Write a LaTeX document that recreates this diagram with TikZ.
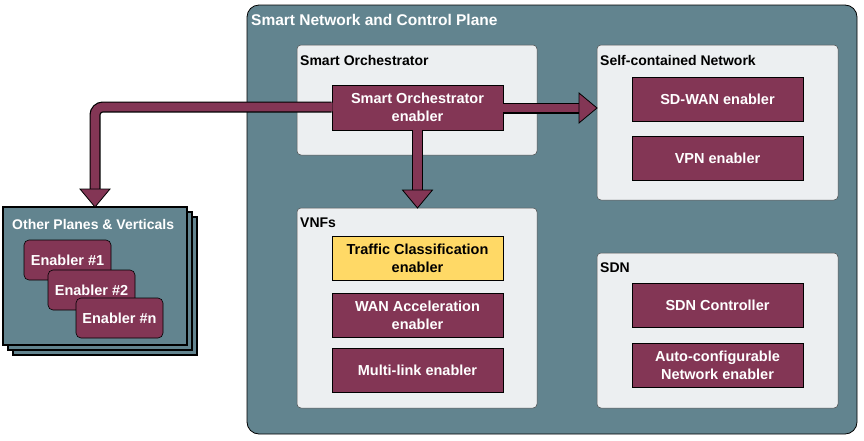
\documentclass[tikz,border=0pt]{standalone}
\usepackage{fontspec}
\setmainfont{Liberation Sans}
\usetikzlibrary{positioning,calc}
\definecolor{teal}{HTML}{62848F}
\definecolor{pale}{HTML}{ECEFF1}
\definecolor{maroon}{HTML}{833655}
\definecolor{yel}{HTML}{FFD966}
\begin{document}
\begin{tikzpicture}[x=1pt,y=-1pt,
  every node/.style={font=\fontsize{14.5}{18}\selectfont\bfseries},
  outer/.style={draw=black,fill=teal,rounded corners=12pt,line width=0.8pt},
  group/.style={draw=black!70,fill=pale,rounded corners=4pt,line width=0.5pt},
  en/.style={draw=black,fill=maroon,text=white,align=center,line width=0.8pt,inner sep=0pt},
  sen/.style={draw=black,fill=maroon,text=white,rounded corners=5pt,line width=0.6pt},
  lbl/.style={anchor=west,inner sep=0pt,font=\fontsize{14}{16}\selectfont\bfseries},
  shaft/.style={line width=11pt},
  head/.style={draw=black,fill=maroon,line width=0.8pt}]
\useasboundingbox (0,0) rectangle (864,440);
% outer
\draw[outer] (247,5) rectangle (857,434);
\node[lbl,text=white,font=\fontsize{15.5}{18}\selectfont\bfseries] (title) at (251,20) {Smart Network and Control Plane};
% groups
\draw[group] (297,45) rectangle (537,155);
\node[lbl] (solbl) at (300,60) {Smart Orchestrator};
\draw[group] (597,45) rectangle (838,200);
\node[lbl] (scnlbl) at (600,60) {Self-contained Network};
\draw[group] (297,208) rectangle (537,408);
\node[lbl] (vnflbl) at (300,223) {VNFs};
\draw[group] (597,253) rectangle (838,408);
\node[lbl] (sdnlbl) at (600,268) {SDN};
% other planes stack
\draw[line width=1.2pt,fill=teal] (13,217) rectangle (197,355);
\draw[line width=1.2pt,fill=teal] (8,212) rectangle (192,350);
\draw[line width=1.2pt,fill=teal] (3,207) rectangle (187,345);
\coordinate (optop) at (95,207);
\node[lbl,text=white] (oplbl) at (12,224) {Other Planes \& Verticals};
\node[sen,minimum width=87pt,minimum height=40pt] (e1) at (67.5,260) {};
\node[sen,minimum width=87pt,minimum height=40pt] (e2) at (91.5,290) {};
\node[sen,minimum width=87pt,minimum height=40pt] (en) at (119.5,318) {};
\node[text=white] at (e1) {Enabler \#1};
\node[text=white] at (e2) {Enabler \#2};
\node[text=white] at (en) {Enabler \#n};
% enablers
\node[en,minimum width=171pt,minimum height=45pt] (so) at (417.5,107.5) {Smart Orchestrator\\enabler};
\node[en,minimum width=171pt,minimum height=44pt] (sdwan) at (717.5,99) {SD-WAN enabler};
\node[en,minimum width=171pt,minimum height=44pt] (vpn) at (717.5,158) {VPN enabler};
\node[en,fill=yel,text=black,minimum width=171pt,minimum height=44pt] (tc) at (417.5,258) {Traffic Classification\\enabler};
\node[en,minimum width=171pt,minimum height=44pt] (wan) at (417.5,315) {WAN Acceleration\\enabler};
\node[en,minimum width=171pt,minimum height=44pt] (ml) at (417.5,370) {Multi-link enabler};
\node[en,minimum width=171pt,minimum height=44pt] (sdnc) at (717.5,305) {SDN Controller};
\node[en,minimum width=171pt,minimum height=44pt] (auto) at (717.5,365) {Auto-configurable\\Network enabler};
% arrows
\coordinate (sc) at (597,108);
\coordinate (vt) at (417.5,208);
\draw[shaft,black,rounded corners=8pt] (so.west|-0,107) -- (95,107) -- (95,190);
\draw[line width=8.6pt,maroon,rounded corners=8pt] ($(so.west|-0,107)+(1,0)$) -- (95,107) -- (95,191);
\draw[head] ($(optop)+(-15,-18)$) -- ($(optop)+(15,-18)$) -- (optop) -- cycle;
\draw[shaft,black] (so.east|-0,108) -- (579,108);
\draw[line width=8.6pt,maroon] ($(so.east|-0,108)+(-1,0)$) -- (580,108);
\draw[head] ($(sc)+(-18,-15)$) -- ($(sc)+(-18,15)$) -- (sc) -- cycle;
\draw[shaft,black] (so.south) -- (417.5,190);
\draw[line width=8.6pt,maroon] ($(so.south)+(0,-1)$) -- (417.5,191);
\draw[head] ($(vt)+(-15,-18)$) -- ($(vt)+(15,-18)$) -- (vt) -- cycle;
\end{tikzpicture}
\end{document}
